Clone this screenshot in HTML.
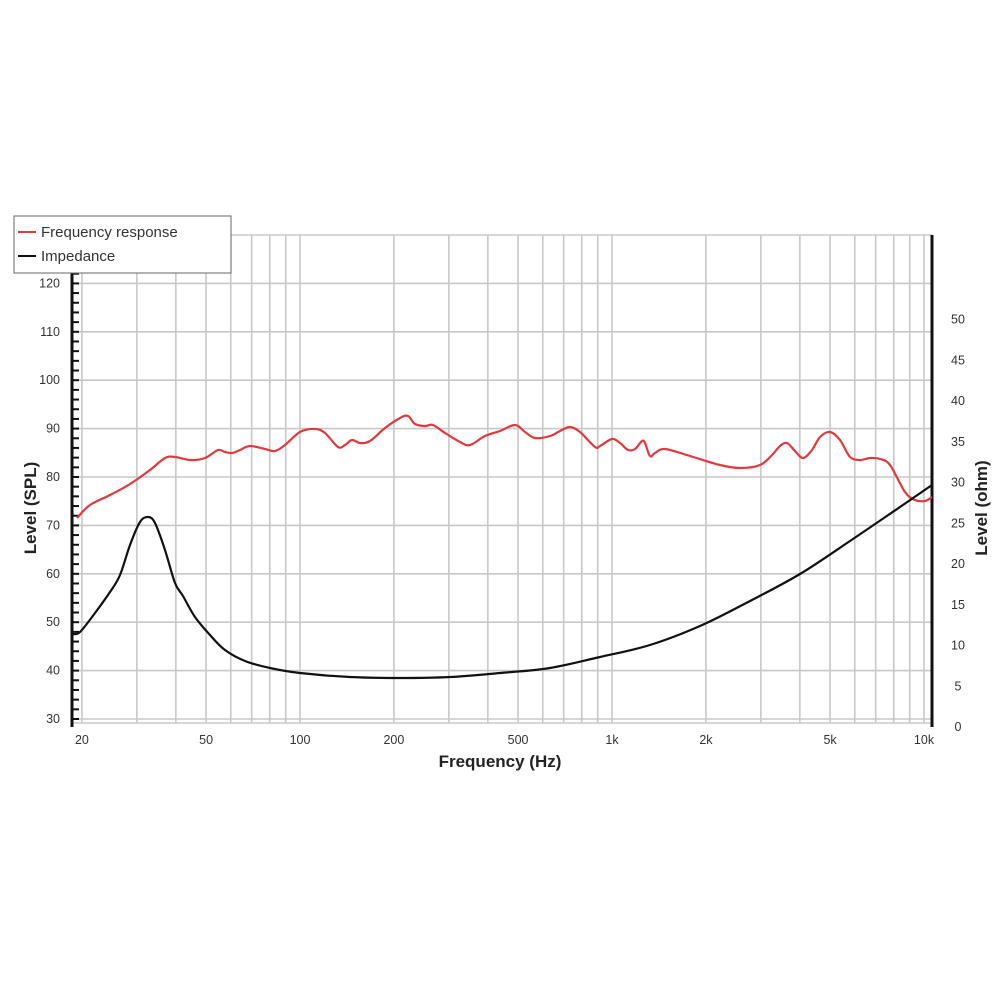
<!DOCTYPE html>
<html><head><meta charset="utf-8"><style>
html,body{margin:0;padding:0;background:#fff}
svg{display:block;font-family:"Liberation Sans",sans-serif}
</style></head><body>
<svg id="s" width="1000" height="1000" xmlns="http://www.w3.org/2000/svg">
<g id="grid" stroke="#c8c8c8" stroke-width="1.6"></g>
<g id="labels" font-size="12.5" fill="#333" text-anchor="middle"></g>
<line x1="72" y1="262" x2="72" y2="727" stroke="#111" stroke-width="3"/>
<line x1="932" y1="235" x2="932" y2="727" stroke="#111" stroke-width="3"/>
<g id="ticks" stroke="#111" stroke-width="2"></g>
<path id="red" fill="none" stroke="#e0393e" stroke-width="2.2" stroke-linejoin="round"/>
<path id="blk" fill="none" stroke="#111" stroke-width="2.2" stroke-linejoin="round"/>
<rect x="14" y="216" width="217" height="57" fill="#fff" stroke="#666" stroke-width="1"/>
<line x1="18" y1="232" x2="36" y2="232" stroke="#e0393e" stroke-width="2"/>
<line x1="18" y1="256" x2="36" y2="256" stroke="#111" stroke-width="2"/>
<text x="41" y="237" font-size="15" fill="#333">Frequency response</text>
<text x="41" y="261" font-size="15" fill="#333">Impedance</text>
<text x="500" y="767" font-size="17" font-weight="bold" fill="#222" text-anchor="middle">Frequency (Hz)</text>
<text transform="translate(36,508) rotate(-90)" font-size="17" font-weight="bold" fill="#222" text-anchor="middle">Level (SPL)</text>
<text transform="translate(987,508) rotate(-90)" font-size="17" font-weight="bold" fill="#222" text-anchor="middle">Level (ohm)</text>
</svg>
<script>
var NS="http://www.w3.org/2000/svg";
function el(p,t,a,txt){var e=document.createElementNS(NS,t);for(var k in a)e.setAttribute(k,a[k]);if(txt!=null)e.textContent=txt;document.getElementById(p).appendChild(e);}
function fx(f){return 300+312*Math.log10(f/100);}
var fs=[20,30,40,50,60,70,80,90,100,200,300,400,500,600,700,800,900,1000,2000,3000,4000,5000,6000,7000,8000,9000,10000];
fs.forEach(function(f){var x=fx(f);el("grid","line",{x1:x,y1:235,x2:x,y2:723});});
for(var d=30;d<=120;d+=10){var y=719-(d-30)*4.84;el("grid","line",{x1:72,y1:y,x2:932,y2:y});
 el("labels","text",{x:60,y:y+4,"text-anchor":"end"},d);}
el("grid","line",{x1:72,y1:723,x2:932,y2:723});
el("grid","line",{x1:72,y1:235,x2:932,y2:235});
for(var d=30;d<=122;d+=2){var y=719-(d-30)*4.84;el("ticks","line",{x1:72,y1:y,x2:79,y2:y});}
[[20,"20"],[50,"50"],[100,"100"],[200,"200"],[500,"500"],[1000,"1k"],[2000,"2k"],[5000,"5k"],[10000,"10k"]].forEach(function(a){el("labels","text",{x:fx(a[0]),y:744},a[1]);});
for(var o=0;o<=50;o+=5){var y=727-o*8.15;el("labels","text",{x:958,y:y+4},o);}
function cr(p){var s="M"+p[0][0]+","+p[0][1];for(var i=0;i<p.length-1;i++){var a=p[i>0?i-1:i],b=p[i],c=p[i+1],q=p[i+2<p.length?i+2:i+1];
s+=" C"+(b[0]+(c[0]-a[0])/6).toFixed(1)+","+(b[1]+(c[1]-a[1])/6).toFixed(1)+" "+(c[0]-(q[0]-b[0])/6).toFixed(1)+","+(c[1]-(q[1]-b[1])/6).toFixed(1)+" "+c[0]+","+c[1];}return s;}
var red=[[77,518],[90,505],[110,495],[130,484],[150,470],[165,458],[175,457],[190,460],[205,458],[218,450],[225,452],[232,453],[240,450],[250,446],[265,449],[275,451],[285,445],[300,432],[315,429],[325,433],[338,447],[345,445],[352,440],[360,443],[370,441],[385,428],[400,418],[408,416],[415,424],[425,426],[433,425],[445,433],[460,442],[470,445],[485,436],[500,431],[515,425],[525,432],[535,438],[550,436],[560,431],[570,427],[580,432],[595,447],[600,446],[612,439],[620,443],[628,450],[635,449],[642,441],[645,443],[650,456],[655,453],[665,449],[690,456],[720,465],[740,468],[760,465],[772,455],[780,446],[787,443],[795,451],[803,458],[812,450],[820,437],[830,432],[840,440],[850,457],[860,460],[870,458],[880,459],[890,465],[905,492],[915,500],[925,501],[932,497]];
var blk=[[73,634],[80,632],[95,613],[110,592],[120,575],[130,545],[140,522],[148,517],[155,523],[165,550],[175,583],[183,596],[195,617],[210,635],[225,650],[245,661],[270,668],[300,673],[350,677],[400,678],[450,677],[500,673],[550,668],[600,657],[650,645],[700,626],[750,601],[800,574],[850,541],[900,507],[932,485]];
document.getElementById("red").setAttribute("d",cr(red));
document.getElementById("blk").setAttribute("d",cr(blk));
</script>
</body></html>
